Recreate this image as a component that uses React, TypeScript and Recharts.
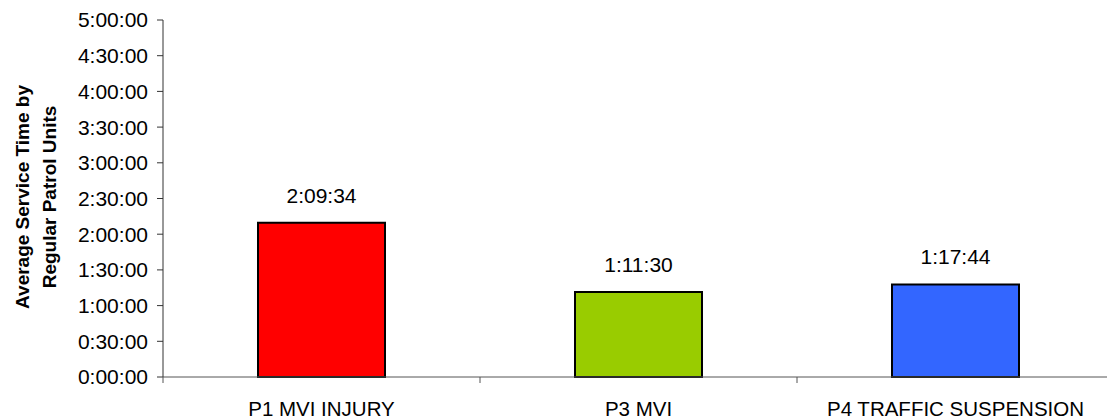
import React from "react";
import { BarChart, Bar, XAxis, YAxis, Cell, LabelList } from "recharts";

const categories = ["P1 MVI INJURY", "P3 MVI", "P4 TRAFFIC SUSPENSION"];
const serviceSeconds = [7774, 4290, 4664]; // 2:09:34, 1:11:30, 1:17:44
const barColors = ["#FF0000", "#99CC00", "#3366FF"];
const yTicks = [0, 1800, 3600, 5400, 7200, 9000, 10800, 12600, 14400, 16200, 18000];
const yLabelLines = ["Average Service Time by", "Regular Patrol Units"];

const data = categories.map((name, i) => ({ name, value: serviceSeconds[i] }));

const W = 1115;
const H = 419;
const MARGIN = { top: 20, right: 1, bottom: 0, left: 0 };
const Y_AXIS_W = 163;
const X_AXIS_H = 42;
const FONT = "'Liberation Sans', Arial, sans-serif";
const FS = 21;
const PLOT_W = W - MARGIN.left - MARGIN.right - Y_AXIS_W;
const PLOT_BOTTOM = H - MARGIN.bottom - X_AXIS_H;
const BAND = PLOT_W / categories.length;

const fmt = (s: number) => {
  const h = Math.floor(s / 3600);
  const m = Math.floor((s % 3600) / 60);
  const sec = Math.round(s % 60);
  return `${h}:${String(m).padStart(2, "0")}:${String(sec).padStart(2, "0")}`;
};

const XTick = (props: any) => {
  const { x, payload } = props;
  const left = x - BAND / 2;
  return (
    <g>
      <line x1={left} x2={left} y1={PLOT_BOTTOM} y2={PLOT_BOTTOM + 6} stroke="#555" strokeWidth={1} />
      <text x={x} y={PLOT_BOTTOM + 39} textAnchor="middle" fontSize={20.5} fontFamily={FONT} fill="#000">
        {payload.value}
      </text>
    </g>
  );
};

const YLabel = () => {
  const cy = 197;
  return (
    <g>
      {yLabelLines.map((t, i) => (
        <text
          key={i}
          x={0}
          y={0}
          transform={`translate(${28.5 + i * 27.5}, ${cy}) rotate(-90)`}
          textAnchor="middle"
          fontSize={19}
          fontWeight="bold"
          fontFamily={FONT}
          fill="#000"
        >
          {t}
        </text>
      ))}
    </g>
  );
};

export default function App() {
  return (
    <div style={{ position: "absolute", left: 0, top: 0, width: W, height: H, background: "#fff" }}>
      <BarChart width={W} height={H} data={data} margin={MARGIN} barSize={127}>
        <XAxis
          dataKey="name"
          height={X_AXIS_H}
          tickLine={false}
          tick={<XTick />}
          stroke="#555"
          interval={0}
        />
        <YAxis
          width={Y_AXIS_W}
          domain={[0, 18000]}
          ticks={yTicks}
          tickFormatter={fmt}
          tickSize={6}
          tickMargin={9}
          stroke="#333"
          tick={{ fill: "#000", fontSize: FS, fontFamily: FONT }}
          label={{ content: <YLabel /> }}
        />
        <Bar dataKey="value" stroke="#000" strokeWidth={2} isAnimationActive={false}>
          {data.map((d, i) => (
            <Cell key={d.name} fill={barColors[i]} />
          ))}
          <LabelList
            dataKey="value"
            position="top"
            offset={20}
            formatter={(v: any) => fmt(Number(v))}
            style={{ fontSize: FS, fontFamily: FONT, fill: "#000" }}
          />
        </Bar>
      </BarChart>
    </div>
  );
}
